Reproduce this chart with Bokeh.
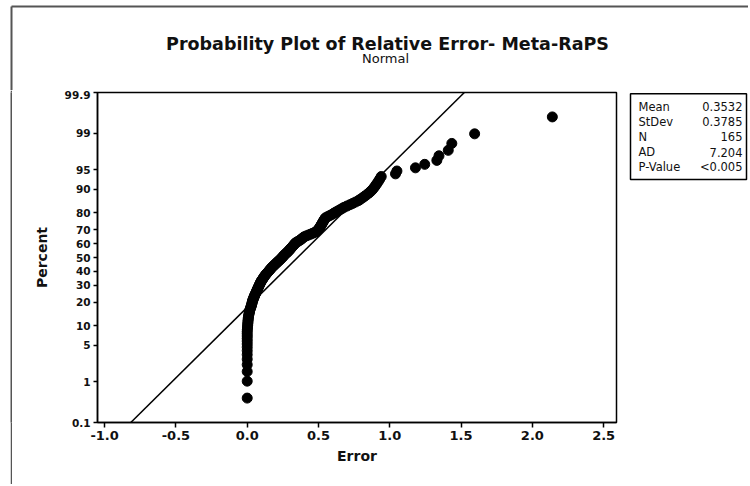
from statistics import NormalDist
from bokeh.plotting import figure
from bokeh.models import Range1d, FixedTicker, NumeralTickFormatter, ColumnDataSource
from bokeh.layouts import row, column
from bokeh.embed import file_html
from bokeh.resources import INLINE
from bokeh.core.properties import value

# ---------------- data ----------------
errors = [
    0.000, 0.000, 0.000, 0.000, 0.000, 0.000, 0.000, 0.000, 0.000, 0.000,
    0.000, 0.000, 0.000, 0.000,
    0.001, 0.002, 0.003, 0.004, 0.005, 0.006, 0.007, 0.008,
    0.010, 0.012, 0.014, 0.016, 0.018, 0.021, 0.024, 0.027, 0.030,
    0.032, 0.034, 0.036, 0.038, 0.041, 0.044, 0.047, 0.050, 0.053, 0.056, 0.060,
    0.063, 0.066, 0.069, 0.072, 0.075, 0.078, 0.081, 0.084, 0.087, 0.090, 0.093, 0.096,
    0.100, 0.104, 0.108, 0.112, 0.116, 0.120, 0.124,
    0.129, 0.134, 0.139, 0.144, 0.149, 0.154, 0.159, 0.164,
    0.169, 0.174, 0.180, 0.186, 0.192, 0.198, 0.204, 0.210, 0.216,
    0.222, 0.228, 0.234, 0.240, 0.245, 0.250, 0.255,
    0.260, 0.266, 0.272, 0.278, 0.284, 0.290, 0.295, 0.300,
    0.305, 0.310, 0.315, 0.320, 0.325, 0.330, 0.335, 0.340,
    0.350, 0.360, 0.370, 0.378, 0.385, 0.392, 0.400,
    0.415, 0.430, 0.445, 0.460, 0.475,
    0.485, 0.492, 0.498, 0.503, 0.508, 0.512, 0.516, 0.520,
    0.524, 0.528, 0.532, 0.536, 0.540, 0.545, 0.550,
    0.565, 0.580, 0.595, 0.607, 0.620, 0.635,
    0.650, 0.665, 0.680, 0.700,
    0.720, 0.740, 0.760, 0.780,
    0.795, 0.810, 0.825, 0.840,
    0.855, 0.868, 0.880, 0.890,
    0.900, 0.910, 0.920, 0.930, 0.940,
    1.040, 1.050, 1.180, 1.245, 1.330, 1.345, 1.410, 1.435, 1.595, 2.140,
]
percent_ticks = [0.1, 1, 5, 10, 20, 30, 40, 50, 60, 70, 80, 90, 95, 99, 99.9]
percent_tick_labels = ["0.1", "1", "5", "10", "20", "30", "40", "50", "60",
                       "70", "80", "90", "95", "99", "99.9"]
x_ticks = [-1.0, -0.5, 0.0, 0.5, 1.0, 1.5, 2.0, 2.5]
stat_labels = ["Mean", "StDev", "N", "AD", "P-Value"]
stat_values = ["0.3532", "0.3785", "165", "7.204", "<0.005"]
fit_mean = 0.3532
fit_stdev = 0.3785
title_text = "Probability Plot of Relative Error- Meta-RaPS"
subtitle_text = "Normal"

FONT = "DejaVu Sans"
INK = "#111111"
FRAME_GREY = "#555555"

nd = NormalDist()
n = len(errors)
xs = sorted(errors)
zs = [nd.inv_cdf((i + 1 - 0.3) / (n + 0.4)) for i in range(n)]
ytick_z = [nd.inv_cdf(v / 100.0) for v in percent_ticks]
zmin, zmax = ytick_z[0], ytick_z[-1]

TOTAL_W = 748
TITLE_H = 90
ROW_H = 394
MB_TOP, MB_BOTTOM = 2, 62


def blank(w, h, fill, **kw):
    f = figure(width=w, height=h, output_backend="svg", toolbar_location=None,
               min_border=0, x_axis_location=None, y_axis_location=None, **kw)
    f.outline_line_color = None
    f.xgrid.visible = False
    f.ygrid.visible = False
    f.background_fill_color = fill
    f.border_fill_color = fill
    return f


# ---------------- title strip ----------------
tf = blank(TOTAL_W, TITLE_H, "white",
           x_range=Range1d(0, TOTAL_W), y_range=Range1d(TITLE_H, 0))
tf.text(x=[387], y=[43], text=[title_text], text_align="center", text_baseline="middle",
        text_font=value(FONT), text_font_size="17.5px", text_font_style="bold", text_color=INK)
tf.text(x=[385], y=[57.5], text=[subtitle_text], text_align="center", text_baseline="middle",
        text_font=value(FONT), text_font_size="13px", text_color=INK)
tf.line(x=[11, 11], y=[6, TITLE_H + 5], line_color=FRAME_GREY, line_width=2)
tf.line(x=[11, TOTAL_W], y=[6, 6], line_color=FRAME_GREY, line_width=2)

# ---------------- left border (pad + grey strip) ----------------
pad = blank(10, ROW_H, "white", x_range=Range1d(0, 1), y_range=Range1d(0, 1))
strip = blank(2, ROW_H, FRAME_GREY, x_range=Range1d(0, 1), y_range=Range1d(0, 1))

# ---------------- main probability plot ----------------
p = figure(width=608, height=ROW_H, x_range=Range1d(-1.05, 2.59), y_range=Range1d(zmin, zmax),
           output_backend="svg", toolbar_location=None,
           min_border_left=85, min_border_right=4, min_border_top=MB_TOP,
           min_border_bottom=MB_BOTTOM)
p.outline_line_color = "black"
p.outline_line_width = 1.5
p.xgrid.visible = False
p.ygrid.visible = False

src = ColumnDataSource(dict(x=xs, z=zs))
p.line(x=[fit_mean + fit_stdev * zmin, fit_mean + fit_stdev * zmax], y=[zmin, zmax],
       line_color="black", line_width=1.5)
p.scatter(x="x", y="z", source=src, size=10, marker="circle",
          fill_color="black", line_color="black")

p.xaxis.ticker = FixedTicker(ticks=x_ticks)
p.xaxis.formatter = NumeralTickFormatter(format="0.0")
p.yaxis.ticker = FixedTicker(ticks=ytick_z)
p.yaxis.major_label_overrides = {z: lab for z, lab in zip(ytick_z, percent_tick_labels)}

for ax in (p.xaxis[0], p.yaxis[0]):
    ax.axis_line_color = "black"
    ax.axis_line_width = 1.5
    ax.major_tick_line_color = "black"
    ax.major_tick_line_width = 1.5
    ax.major_tick_in = 0
    ax.minor_tick_line_color = None
    ax.major_label_text_font = FONT
    ax.major_label_text_font_style = "bold"
    ax.major_label_text_color = INK
    ax.axis_label_text_font = FONT
    ax.axis_label_text_font_style = "bold"
    ax.axis_label_text_font_size = "14px"
    ax.axis_label_text_color = INK

p.xaxis.axis_label = "Error"
p.xaxis.major_tick_out = 5
p.xaxis.major_label_text_font_size = "13px"
p.xaxis.major_label_standoff = 3
p.xaxis.axis_label_standoff = 5

p.yaxis.axis_label = "Percent"
p.yaxis.major_tick_out = 4
p.yaxis.major_label_text_font_size = "10.5px"
p.yaxis.major_label_standoff = 3
p.yaxis.axis_label_standoff = 12

# ---------------- statistics box ----------------
SF_W = TOTAL_W - 10 - 2 - 608
frame_h = ROW_H - MB_TOP - MB_BOTTOM
sf = figure(width=SF_W, height=ROW_H, x_range=Range1d(0, SF_W), y_range=Range1d(frame_h, 0),
            output_backend="svg", toolbar_location=None,
            min_border_left=0, min_border_right=0, min_border_top=MB_TOP,
            min_border_bottom=MB_BOTTOM, x_axis_location=None, y_axis_location=None)
sf.outline_line_color = None
sf.xgrid.visible = False
sf.ygrid.visible = False
# frame of this panel starts at page y = 92, x = 620
sf.quad(left=[10], right=[SF_W - 2], top=[1.2], bottom=[87], fill_color="white",
        line_color="black", line_width=1.5)
row_y = [14 + 15.2 * i for i in range(len(stat_labels))]
sf.text(x=[18] * len(stat_labels), y=row_y, text=stat_labels, text_align="left",
        text_baseline="middle", text_font=value(FONT), text_font_size="11.5px",
        text_color=INK)
sf.text(x=[SF_W - 6] * len(stat_values), y=row_y, text=stat_values, text_align="right",
        text_baseline="middle", text_font=value(FONT), text_font_size="11.5px",
        text_color=INK)

layout = column(tf, row(pad, strip, p, sf))
open("out.html", "w").write(file_html(layout, INLINE))
